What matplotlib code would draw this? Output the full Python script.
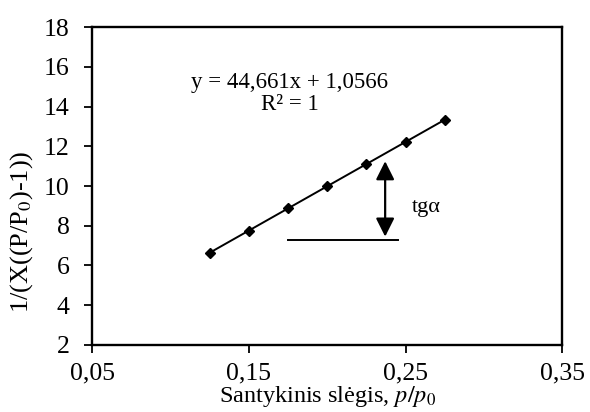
import numpy as np
import matplotlib
matplotlib.use('Agg')
import matplotlib.pyplot as plt

plt.rcParams['font.family'] = ['Liberation Serif', 'DejaVu Serif']
plt.rcParams['mathtext.fontset'] = 'stix'

# duomenys
p_rel = [0.125, 0.15, 0.175, 0.2, 0.225, 0.25, 0.275]
y_val = [6.64, 7.75, 8.87, 9.99, 11.10, 12.22, 13.34]
x_ticks = [0.05, 0.15, 0.25, 0.35]
x_tick_labels = ['0,05', '0,15', '0,25', '0,35']
y_ticks = [2, 4, 6, 8, 10, 12, 14, 16, 18]

fig = plt.figure(figsize=(5.9, 4.12), dpi=100)
ax = fig.add_axes([0.156, 0.163, 0.797, 0.771])

# tiesine trendo linija
k, b = np.polyfit(p_rel, y_val, 1)
xf = np.array([min(p_rel), max(p_rel)])
ax.plot(xf, k * xf + b, color='black', lw=1.4)
ax.plot(p_rel, y_val, 'D', color='black', markersize=5.5)

ax.text(0.176, 15.2, 'y = 44,661x + 1,0566', ha='center', va='center', fontsize=16.5)
ax.text(0.176, 14.1, 'R² = 1', ha='center', va='center', fontsize=16.5)

# nuolydzio zymejimas
ax.annotate('', xy=(0.237, 7.45), xytext=(0.237, 11.25),
            arrowprops=dict(arrowstyle='<|-|>', color='black', lw=1.6,
                            mutation_scale=28, shrinkA=0, shrinkB=0))
ax.plot([0.175, 0.245], [7.3, 7.3], color='black', lw=1.4)
ax.text(0.254, 8.9, 'tgα', ha='left', va='center', fontsize=16)

ax.set_xlim(0.05, 0.35)
ax.set_ylim(2, 18)
ax.set_xticks(x_ticks)
ax.set_xticklabels(x_tick_labels)
ax.set_yticks(y_ticks)
ax.tick_params(direction='out', length=6, width=1.3, labelsize=18.5, pad=10)
ax.tick_params(axis='x', pad=7)
for s in ax.spines.values():
    s.set_linewidth(1.7)

ax.set_xlabel('Santykinis slėgis, $p/p_0$', fontsize=17.5)
ax.xaxis.set_label_coords(0.5, -0.124)
ax.set_ylabel('1/(X((P/P$_0$)-1))', fontsize=19)
ax.yaxis.set_label_coords(-0.122, 0.355)

fig.savefig('out.png', dpi=100)
